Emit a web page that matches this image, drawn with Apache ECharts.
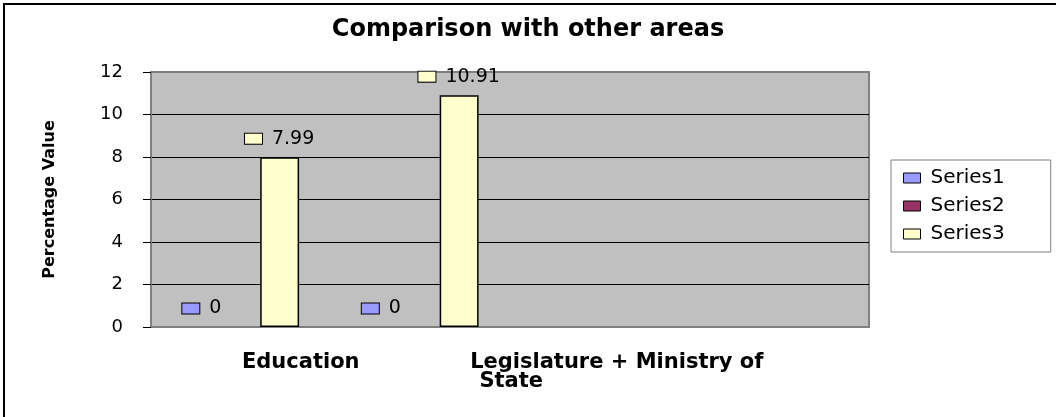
<!DOCTYPE html>
<html>
<head>
<meta charset="utf-8">
<title>Comparison with other areas</title>
<script src="https://cdn.jsdelivr.net/npm/echarts@6/dist/echarts.min.js"></script>
<style>
  html, body { margin: 0; padding: 0; background: #fff; overflow: hidden; }
  #main { position: absolute; left: 0; top: 0; width: 1056px; height: 417px; }
  /* outer chart frame, right and bottom edges fall outside the picture */
  .frame { position: absolute; left: 3px; top: 3px; width: 1060px; height: 420px; border: 2px solid #000; pointer-events: none; }
</style>
</head>
<body>
<div id="main"></div>
<div class="frame"></div>
<script>
// categories (last two are empty slots in the original sheet)
const categories = ['Education', 'Legislature + Ministry of State', '', '']
const series1 = [0, 0, null, null]
const series2 = [null, null, null, null]
const series3 = [7.99, 10.91, null, null]
const seriesNames = ['Series1', 'Series2', 'Series3']
const seriesColors = ['#9999FF', '#993366', '#FFFFCC']
const yTicks = { min: 0, max: 12, interval: 2 }

const chartDom = document.getElementById('main')
const myChart = echarts.init(chartDom)

// data label = small legend key + value
const makeLabel = (color) => ({
  show: true,
  position: 'top',
  distance: 9,
  formatter: (p) => '{m|}{v|' + p.value + '}',
  rich: {
    m: { width: 17, height: 10, backgroundColor: color, borderColor: '#000', borderWidth: 1 },
    v: { fontFamily: 'DejaVu Sans', fontSize: 19, color: '#000', padding: [0, 0, 0, 10], lineHeight: 19 }
  }
})

const labelFont = { fontFamily: 'DejaVu Sans', fontWeight: 'bold', fontSize: 21, color: '#000', lineHeight: 19 }

const option = {
  animation: false,
  title: {
    text: 'Comparison with other areas',
    left: 'center',
    top: 13,
    textStyle: { fontFamily: 'DejaVu Sans', fontWeight: 'bold', fontSize: 24, color: '#000' }
  },
  legend: {
    orient: 'vertical',
    left: 891,
    top: 160,
    padding: [8, 46, 8, 12],
    itemGap: 8,
    itemWidth: 17,
    itemHeight: 10,
    borderColor: '#808080',
    borderWidth: 1,
    backgroundColor: '#fff',
    icon: 'rect',
    data: seriesNames.map((n) => ({ name: n, itemStyle: { borderColor: '#000', borderWidth: 1 } })),
    textStyle: { fontFamily: 'DejaVu Sans', fontSize: 20, color: '#000', padding: [0, 0, 0, 5] }
  },
  grid: {
    left: 151,
    right: 187,
    top: 72,
    bottom: 90,
    show: true,
    backgroundColor: '#C0C0C0',
    borderColor: '#808080',
    borderWidth: 2,
    outerBoundsMode: 'none'
  },
  xAxis: {
    type: 'category',
    data: categories,
    axisTick: { show: false },
    axisLine: { lineStyle: { color: '#808080', width: 2 } },
    axisLabel: {
      interval: 0,
      margin: 26,
      formatter: (v, i) => {
        if (i === 0) return '{a|' + v + '}'
        if (i === 1) return '{b|Legislature + Ministry of}\n{c|State}'
        return ''
      },
      rich: {
        a: Object.assign({ padding: [0, 0, 0, 120] }, labelFont),
        b: Object.assign({ padding: [0, 0, 0, 393] }, labelFont),
        c: Object.assign({ padding: [0, 0, 0, 182] }, labelFont)
      }
    }
  },
  yAxis: {
    type: 'value',
    min: yTicks.min,
    max: yTicks.max,
    interval: yTicks.interval,
    name: 'Percentage Value',
    nameLocation: 'middle',
    nameRotate: 90,
    nameGap: 93,
    nameTextStyle: { fontFamily: 'DejaVu Sans', fontWeight: 'bold', fontSize: 16, color: '#000' },
    axisLine: { show: true, lineStyle: { color: '#808080', width: 2 } },
    axisTick: { show: true, length: 8, lineStyle: { color: '#000', width: 1 } },
    axisLabel: { margin: 28, fontFamily: 'DejaVu Sans', fontSize: 18, color: '#000' },
    splitLine: { show: true, showMinLine: false, showMaxLine: false, lineStyle: { color: '#000', width: 1 } }
  },
  series: [
    {
      name: seriesNames[0],
      type: 'bar',
      data: series1,
      barGap: '0%',
      barCategoryGap: '35%',
      itemStyle: { color: seriesColors[0], borderColor: '#000', borderWidth: 0 },
      label: makeLabel(seriesColors[0])
    },
    {
      name: seriesNames[1],
      type: 'bar',
      data: series2,
      barGap: '0%',
      barCategoryGap: '35%',
      itemStyle: { color: seriesColors[1], borderColor: '#000', borderWidth: 1 },
      label: makeLabel(seriesColors[1])
    },
    {
      name: seriesNames[2],
      type: 'bar',
      data: series3,
      barGap: '0%',
      barCategoryGap: '35%',
      itemStyle: { color: seriesColors[2], borderColor: '#000', borderWidth: 1.5 },
      label: makeLabel(seriesColors[2])
    }
  ]
}

myChart.setOption(option)
</script>
</body>
</html>
